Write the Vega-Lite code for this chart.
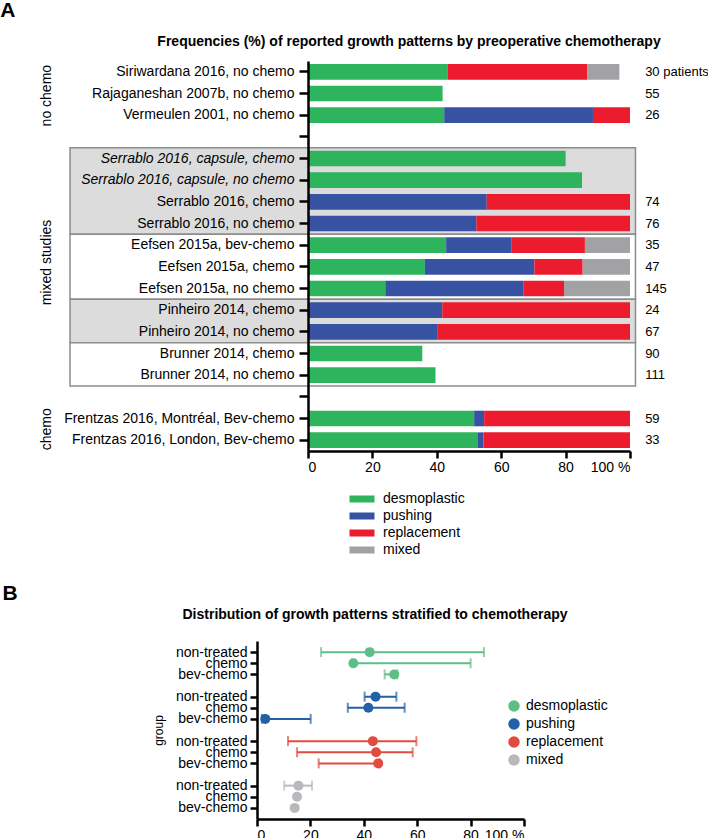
{
  "$schema": "https://vega.github.io/schema/vega-lite/v6.json",
  "padding": 0,
  "background": "white",
  "columns": 1,
  "align": "none",
  "spacing": 26,
  "config": {
    "font": "Liberation Sans",
    "view": {"stroke": null},
    "axis": {"grid": false, "labelColor": "#000", "tickColor": "#000", "domainColor": "#000", "labelFontSize": 14, "domainWidth": 2.5, "tickWidth": 2.5, "titleColor": "#000"},
    "legend": {"labelColor": "#000", "labelFontSize": 14},
    "title": {"color": "#000"},
    "text": {"color": "#000"}
  },
  "resolve": {"scale": {"color": "independent"}, "legend": {"color": "independent"}},
  "datasets": {
    "shares": [
      {"study": "Siriwardana 2016, no chemo", "pattern": "desmoplastic", "pct": 43.3},
      {"study": "Siriwardana 2016, no chemo", "pattern": "replacement", "pct": 43.4},
      {"study": "Siriwardana 2016, no chemo", "pattern": "mixed", "pct": 10.0},
      {"study": "Rajaganeshan 2007b, no chemo", "pattern": "desmoplastic", "pct": 41.8},
      {"study": "Vermeulen 2001, no chemo", "pattern": "desmoplastic", "pct": 42.3},
      {"study": "Vermeulen 2001, no chemo", "pattern": "pushing", "pct": 46.2},
      {"study": "Vermeulen 2001, no chemo", "pattern": "replacement", "pct": 11.5},
      {"study": "Serrablo 2016, capsule, chemo", "pattern": "desmoplastic", "pct": 80.0},
      {"study": "Serrablo 2016, capsule, no chemo", "pattern": "desmoplastic", "pct": 85.1},
      {"study": "Serrablo 2016, chemo", "pattern": "pushing", "pct": 55.5},
      {"study": "Serrablo 2016, chemo", "pattern": "replacement", "pct": 44.5},
      {"study": "Serrablo 2016, no chemo", "pattern": "pushing", "pct": 52.3},
      {"study": "Serrablo 2016, no chemo", "pattern": "replacement", "pct": 47.7},
      {"study": "Eefsen 2015a, bev-chemo", "pattern": "desmoplastic", "pct": 42.9},
      {"study": "Eefsen 2015a, bev-chemo", "pattern": "pushing", "pct": 20.2},
      {"study": "Eefsen 2015a, bev-chemo", "pattern": "replacement", "pct": 22.9},
      {"study": "Eefsen 2015a, bev-chemo", "pattern": "mixed", "pct": 14.0},
      {"study": "Eefsen 2015a, chemo", "pattern": "desmoplastic", "pct": 36.3},
      {"study": "Eefsen 2015a, chemo", "pattern": "pushing", "pct": 34.0},
      {"study": "Eefsen 2015a, chemo", "pattern": "replacement", "pct": 15.0},
      {"study": "Eefsen 2015a, chemo", "pattern": "mixed", "pct": 14.7},
      {"study": "Eefsen 2015a, no chemo", "pattern": "desmoplastic", "pct": 24.0},
      {"study": "Eefsen 2015a, no chemo", "pattern": "pushing", "pct": 43.0},
      {"study": "Eefsen 2015a, no chemo", "pattern": "replacement", "pct": 12.5},
      {"study": "Eefsen 2015a, no chemo", "pattern": "mixed", "pct": 20.5},
      {"study": "Pinheiro 2014, chemo", "pattern": "pushing", "pct": 41.7},
      {"study": "Pinheiro 2014, chemo", "pattern": "replacement", "pct": 58.3},
      {"study": "Pinheiro 2014, no chemo", "pattern": "pushing", "pct": 40.3},
      {"study": "Pinheiro 2014, no chemo", "pattern": "replacement", "pct": 59.7},
      {"study": "Brunner 2014, chemo", "pattern": "desmoplastic", "pct": 35.5},
      {"study": "Brunner 2014, no chemo", "pattern": "desmoplastic", "pct": 39.6},
      {"study": "Frentzas 2016, Montréal, Bev-chemo", "pattern": "desmoplastic", "pct": 51.6},
      {"study": "Frentzas 2016, Montréal, Bev-chemo", "pattern": "pushing", "pct": 3.1},
      {"study": "Frentzas 2016, Montréal, Bev-chemo", "pattern": "replacement", "pct": 45.3},
      {"study": "Frentzas 2016, London, Bev-chemo", "pattern": "desmoplastic", "pct": 52.6},
      {"study": "Frentzas 2016, London, Bev-chemo", "pattern": "pushing", "pct": 1.9},
      {"study": "Frentzas 2016, London, Bev-chemo", "pattern": "replacement", "pct": 45.5}
    ],
    "counts": [
      {"study": "Siriwardana 2016, no chemo", "n": "30 patients"},
      {"study": "Rajaganeshan 2007b, no chemo", "n": "55"},
      {"study": "Vermeulen 2001, no chemo", "n": "26"},
      {"study": "Serrablo 2016, chemo", "n": "74"},
      {"study": "Serrablo 2016, no chemo", "n": "76"},
      {"study": "Eefsen 2015a, bev-chemo", "n": "35"},
      {"study": "Eefsen 2015a, chemo", "n": "47"},
      {"study": "Eefsen 2015a, no chemo", "n": "145"},
      {"study": "Pinheiro 2014, chemo", "n": "24"},
      {"study": "Pinheiro 2014, no chemo", "n": "67"},
      {"study": "Brunner 2014, chemo", "n": "90"},
      {"study": "Brunner 2014, no chemo", "n": "111"},
      {"study": "Frentzas 2016, Montréal, Bev-chemo", "n": "59"},
      {"study": "Frentzas 2016, London, Bev-chemo", "n": "33"}
    ],
    "boxes": [
      {"box": 1, "from": 4, "to": 8, "shade": "shaded"},
      {"box": 2, "from": 8, "to": 11, "shade": "plain"},
      {"box": 3, "from": 11, "to": 13, "shade": "shaded"},
      {"box": 4, "from": 13, "to": 15, "shade": "plain"}
    ],
    "sections": [
      {"section": "no chemo", "mid": 1.6},
      {"section": "mixed studies", "mid": 9.3},
      {"section": "chemo", "mid": 17.0}
    ],
    "stratified": [
      {"row": "desmoplastic|non-treated", "pattern": "desmoplastic", "group": "non-treated", "est": 42.2, "lower": 24.0, "upper": 85.0},
      {"row": "desmoplastic|chemo", "pattern": "desmoplastic", "group": "chemo", "est": 36.1, "lower": 35.5, "upper": 80.0},
      {"row": "desmoplastic|bev-chemo", "pattern": "desmoplastic", "group": "bev-chemo", "est": 51.4, "lower": 47.8, "upper": 52.5},
      {"row": "pushing|non-treated", "pattern": "pushing", "group": "non-treated", "est": 44.4, "lower": 40.3, "upper": 52.2},
      {"row": "pushing|chemo", "pattern": "pushing", "group": "chemo", "est": 41.7, "lower": 34.0, "upper": 55.3},
      {"row": "pushing|bev-chemo", "pattern": "pushing", "group": "bev-chemo", "est": 3.1, "lower": 1.9, "upper": 20.1},
      {"row": "replacement|non-treated", "pattern": "replacement", "group": "non-treated", "est": 43.4, "lower": 11.6, "upper": 59.7},
      {"row": "replacement|chemo", "pattern": "replacement", "group": "chemo", "est": 44.6, "lower": 15.0, "upper": 58.3},
      {"row": "replacement|bev-chemo", "pattern": "replacement", "group": "bev-chemo", "est": 45.4, "lower": 23.1, "upper": 46.0},
      {"row": "mixed|non-treated", "pattern": "mixed", "group": "non-treated", "est": 15.5, "lower": 10.2, "upper": 20.6},
      {"row": "mixed|chemo", "pattern": "mixed", "group": "chemo", "est": 15.0, "lower": null, "upper": null},
      {"row": "mixed|bev-chemo", "pattern": "mixed", "group": "bev-chemo", "est": 14.1, "lower": null, "upper": null}
    ]
  },
  "concat": [
    {
      "title": {"text": "A", "anchor": "start", "frame": "bounds", "dx": -40, "fontSize": 21, "fontWeight": "bold", "offset": 14},
      "vconcat": [
        {
          "title": {"text": "Frequencies (%) of reported growth patterns by preoperative chemotherapy", "anchor": "middle", "frame": "group", "dx": -60, "fontSize": 14, "fontWeight": "bold", "offset": 12},
          "width": 322,
          "height": 390,
          "resolve": {"scale": {"y": "independent"}},
          "layer": [
            {
              "data": {"name": "boxes"},
              "mark": {"type": "rect", "stroke": "#8c8c8c", "strokeWidth": 1.5},
              "encoding": {
                "x": {"datum": -73.9, "type": "quantitative", "scale": {"domain": [0, 100], "nice": false, "zero": false}},
                "x2": {"datum": 101.7},
                "y": {"field": "from", "type": "quantitative", "scale": {"domain": [0, 18], "reverse": true, "nice": false, "zero": false}, "axis": null},
                "y2": {"field": "to"},
                "fill": {"field": "shade", "type": "nominal", "scale": {"domain": ["shaded", "plain"], "range": ["#dcdcdc", "#ffffff"]}, "legend": null}
              }
            },
            {
              "data": {"name": "sections"},
              "mark": {"type": "text", "angle": 270, "fontSize": 14, "align": "center", "baseline": "middle"},
              "encoding": {
                "x": {"datum": -81, "type": "quantitative", "scale": {"domain": [0, 100], "nice": false, "zero": false}},
                "y": {"field": "mid", "type": "quantitative", "scale": {"domain": [0, 18], "reverse": true, "nice": false, "zero": false}, "axis": null},
                "text": {"field": "section"}
              }
            },
            {
              "data": {"name": "shares"},
              "transform": [{"calculate": "indexof(['desmoplastic','pushing','replacement','mixed'], datum.pattern)", "as": "ord"}],
              "mark": {"type": "bar"},
              "encoding": {
                "x": {"field": "pct", "type": "quantitative", "stack": "zero", "scale": {"domain": [0, 100], "nice": false, "zero": false},
                  "axis": {"title": null, "values": [0, 20, 40, 60, 80, 100], "labelExpr": "datum.value == 100 ? '100 %' : datum.label", "tickSize": 7, "labelPadding": 2, "zindex": 1}},
                "y": {"field": "study", "type": "nominal",
                  "scale": {"domain": ["Siriwardana 2016, no chemo", "Rajaganeshan 2007b, no chemo", "Vermeulen 2001, no chemo", "gap1", "Serrablo 2016, capsule, chemo", "Serrablo 2016, capsule, no chemo", "Serrablo 2016, chemo", "Serrablo 2016, no chemo", "Eefsen 2015a, bev-chemo", "Eefsen 2015a, chemo", "Eefsen 2015a, no chemo", "Pinheiro 2014, chemo", "Pinheiro 2014, no chemo", "Brunner 2014, chemo", "Brunner 2014, no chemo", "gap2", "Frentzas 2016, Montréal, Bev-chemo", "Frentzas 2016, London, Bev-chemo"], "paddingInner": 0.28, "paddingOuter": 0.14},
                  "axis": {"title": null, "zindex": 1, "tickSize": 9, "labelPadding": 5, "labelLimit": 400,
                    "labelExpr": "indexof(datum.value, 'gap') === 0 ? '' : datum.value",
                    "labelFontStyle": {"condition": {"test": "indexof(datum.value, 'capsule') >= 0", "value": "italic"}, "value": "normal"}}},
                "color": {"field": "pattern", "type": "nominal",
                  "scale": {"domain": ["desmoplastic", "pushing", "replacement", "mixed"], "range": ["#2eb45c", "#3752a3", "#ec1c2e", "#a2a2a4"]},
                  "legend": {"title": null, "orient": "none", "legendX": 47, "legendY": 431, "symbolType": "M-2,-0.56H2V0.56H-2Z", "symbolSize": 156.25, "symbolStrokeWidth": 0, "symbolOpacity": 1, "labelOffset": 14, "rowPadding": 3, "labelFontSize": 14}},
                "order": {"field": "ord", "type": "quantitative"}
              }
            },
            {
              "data": {"name": "counts"},
              "mark": {"type": "text", "align": "left", "baseline": "middle", "fontSize": 13},
              "encoding": {
                "x": {"datum": 104.7, "type": "quantitative", "scale": {"domain": [0, 100], "nice": false, "zero": false}},
                "y": {"field": "study", "type": "nominal",
                  "scale": {"domain": ["Siriwardana 2016, no chemo", "Rajaganeshan 2007b, no chemo", "Vermeulen 2001, no chemo", "gap1", "Serrablo 2016, capsule, chemo", "Serrablo 2016, capsule, no chemo", "Serrablo 2016, chemo", "Serrablo 2016, no chemo", "Eefsen 2015a, bev-chemo", "Eefsen 2015a, chemo", "Eefsen 2015a, no chemo", "Pinheiro 2014, chemo", "Pinheiro 2014, no chemo", "Brunner 2014, chemo", "Brunner 2014, no chemo", "gap2", "Frentzas 2016, Montréal, Bev-chemo", "Frentzas 2016, London, Bev-chemo"], "paddingInner": 0.28, "paddingOuter": 0.14},
                  "axis": null},
                "text": {"field": "n"}
              }
            }
          ]
        }
      ]
    },
    {
      "title": {"text": "B", "anchor": "start", "frame": "bounds", "dx": -150, "fontSize": 21, "fontWeight": "bold", "offset": 4},
      "vconcat": [
        {
          "title": {"text": "Distribution of growth patterns stratified to chemotherapy", "anchor": "middle", "frame": "group", "dx": -41, "fontSize": 14, "fontWeight": "bold", "offset": 19},
          "width": 216,
          "height": 178,
          "data": {"name": "stratified"},
          "encoding": {
            "y": {"field": "row", "type": "nominal",
              "scale": {"type": "point", "padding": 1, "domain": ["desmoplastic|non-treated", "desmoplastic|chemo", "desmoplastic|bev-chemo", "gap1", "pushing|non-treated", "pushing|chemo", "pushing|bev-chemo", "gap2", "replacement|non-treated", "replacement|chemo", "replacement|bev-chemo", "gap3", "mixed|non-treated", "mixed|chemo", "mixed|bev-chemo"]},
              "axis": {"title": "group", "offset": 51, "titleFontSize": 12, "titleFontWeight": "normal", "titlePadding": 10, "tickSize": 7, "labelPadding": 3,
                "labelExpr": "indexof(datum.value, 'gap') === 0 ? '' : split(datum.value, '|')[1]",
                "tickOpacity": {"condition": {"test": "indexof(datum.value, 'gap') === 0", "value": 0}, "value": 1}}}
          },
          "layer": [
            {
              "transform": [{"filter": "isValid(datum.lower)"}],
              "mark": {"type": "errorbar", "thickness": 2, "ticks": {"size": 10}},
              "encoding": {
                "x": {"field": "lower", "type": "quantitative", "scale": {"domain": [0, 100], "range": [-51, 216], "nice": false, "zero": false},
                  "axis": {"title": null, "values": [0, 20, 40, 60, 80, 100], "labelExpr": "datum.value == 100 ? '100 %' : datum.label", "tickSize": 7, "labelPadding": 2}},
                "x2": {"field": "upper"},
                "color": {"field": "pattern", "type": "nominal",
                  "scale": {"domain": ["desmoplastic", "pushing", "replacement", "mixed"], "range": ["#5dbf86", "#2360a6", "#e24b3f", "#b9b9bd"]}}
              }
            },
            {
              "mark": {"type": "circle", "size": 100, "opacity": 1},
              "encoding": {
                "x": {"field": "est", "type": "quantitative", "scale": {"domain": [0, 100], "range": [-51, 216], "nice": false, "zero": false}},
                "color": {"field": "pattern", "type": "nominal",
                  "scale": {"domain": ["desmoplastic", "pushing", "replacement", "mixed"], "range": ["#5dbf86", "#2360a6", "#e24b3f", "#b9b9bd"]},
                  "legend": {"title": null, "orient": "none", "legendX": 199, "legendY": 58, "symbolType": "circle", "symbolSize": 100, "symbolOpacity": 1, "labelOffset": 5, "rowPadding": 2, "labelFontSize": 14,
                    "encode": {"symbols": {"update": {"opacity": {"value": 1}, "fillOpacity": {"value": 1}, "strokeOpacity": {"value": 1}}}}}}
              }
            }
          ]
        }
      ]
    }
  ]
}
